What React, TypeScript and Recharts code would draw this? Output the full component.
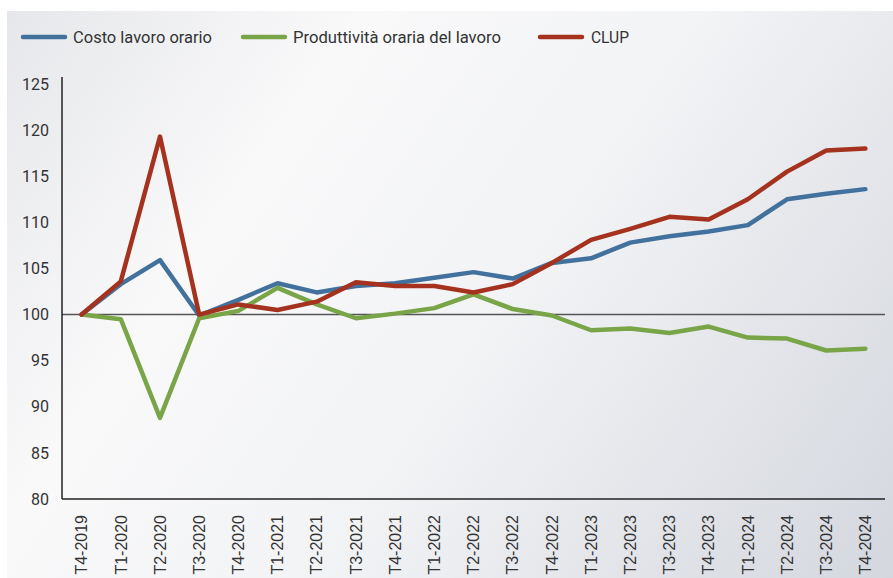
import { LineChart, Line, XAxis, YAxis, ReferenceLine, Legend } from 'recharts'

const quarters = [
  'T4-2019', 'T1-2020', 'T2-2020', 'T3-2020', 'T4-2020', 'T1-2021', 'T2-2021',
  'T3-2021', 'T4-2021', 'T1-2022', 'T2-2022', 'T3-2022', 'T4-2022', 'T1-2023',
  'T2-2023', 'T3-2023', 'T4-2023', 'T1-2024', 'T2-2024', 'T3-2024', 'T4-2024',
]

const costoOrario = [
  100, 103.3, 105.9, 99.9, 101.6, 103.4, 102.4, 103.1, 103.4, 104.0, 104.6,
  103.9, 105.6, 106.1, 107.8, 108.5, 109.0, 109.7, 112.5, 113.1, 113.6,
]

const produttivita = [
  100, 99.5, 88.8, 99.6, 100.4, 102.9, 101.1, 99.6, 100.1, 100.7, 102.2,
  100.6, 99.9, 98.3, 98.5, 98.0, 98.7, 97.5, 97.4, 96.1, 96.3,
]

const clup = [
  100, 103.6, 119.3, 100, 101.1, 100.5, 101.4, 103.5, 103.1, 103.1, 102.4,
  103.3, 105.6, 108.1, 109.3, 110.6, 110.3, 112.5, 115.5, 117.8, 118.0,
]

const yTicks = [80, 85, 90, 95, 100, 105, 110, 115, 120, 125]

const series = [
  { key: 'costo', name: 'Costo lavoro orario', color: '#41719c', lx: 14, tx: 66, tw: 139 },
  { key: 'prod', name: 'Produttività oraria del lavoro', color: '#79a548', lx: 234, tx: 286, tw: 208 },
  { key: 'clup', name: 'CLUP', color: '#a5321e', lx: 531, tx: 584, tw: 38 },
]

const chartData = quarters.map((q, i) => ({
  quarter: q,
  costo: costoOrario[i],
  prod: produttivita[i],
  clup: clup[i],
}))

// legend drawn as svg so the narrow font widths can be matched
const LegendContent = () => (
  <svg width={886} height={40} style={{ display: 'block' }}>
    {series.map((s) => (
      <g key={s.key}>
        <line x1={s.lx + 2} x2={s.lx + 44} y1={20} y2={20} stroke={s.color} strokeWidth={4.5} strokeLinecap="round" />
        <text
          x={s.tx}
          y={26}
          fontFamily="Roboto, sans-serif"
          fontSize={17}
          fill="#333"
          textLength={s.tw}
          lengthAdjust="spacingAndGlyphs"
        >
          {s.name}
        </text>
      </g>
    ))}
  </svg>
)

const QuarterTick = ({ x, y, payload }: any) => (
  <text
    x={x}
    y={y + 8}
    transform={`rotate(-90, ${x}, ${y + 8})`}
    textAnchor="end"
    dy="0.36em"
    fontFamily="'Liberation Sans', Arial, sans-serif"
    fontSize={16}
    fill="#333"
  >
    {payload.value}
  </text>
)

export default function App() {
  return (
    <div style={{ background: '#fff', paddingTop: 11, paddingLeft: 7 }}>
      <style>{'body{margin:0}'}</style>
      <div
        style={{
          width: 886,
          height: 567,
          background: 'linear-gradient(125deg, #e6e7ea 0%, #f9f9fa 28%, #f2f3f5 55%, #d4d7de 100%)',
        }}
      >
        <LineChart
          width={886}
          height={567}
          data={chartData}
          margin={{ top: 26, right: 8, bottom: 9, left: 0 }}
        >
          <Legend
            verticalAlign="top"
            align="left"
            content={<LegendContent />}
            wrapperStyle={{ top: 6, left: 0 }}
          />
          <XAxis
            dataKey="quarter"
            interval={0}
            height={70}
            padding={{ left: 19.6, right: 19.6 }}
            tick={<QuarterTick />}
            tickLine={false}
            axisLine={{ stroke: '#222', strokeWidth: 1.5 }}
          />
          <YAxis
            domain={[80, 125.76]}
            ticks={yTicks}
            width={55}
            tickLine={false}
            tickSize={0}
            tickMargin={13}
            axisLine={{ stroke: '#222', strokeWidth: 1.5 }}
            tick={{ fontFamily: 'Roboto, sans-serif', fontSize: 16, fill: '#333' }}
          />
          <ReferenceLine y={100} stroke="#555" strokeWidth={1.5} />
          {series.map((s) => (
            <Line
              key={s.key}
              type="linear"
              dataKey={s.key}
              name={s.name}
              stroke={s.color}
              strokeWidth={4.5}
              strokeLinecap="round"
              strokeLinejoin="round"
              dot={false}
              activeDot={false}
              isAnimationActive={false}
            />
          ))}
        </LineChart>
      </div>
    </div>
  )
}
